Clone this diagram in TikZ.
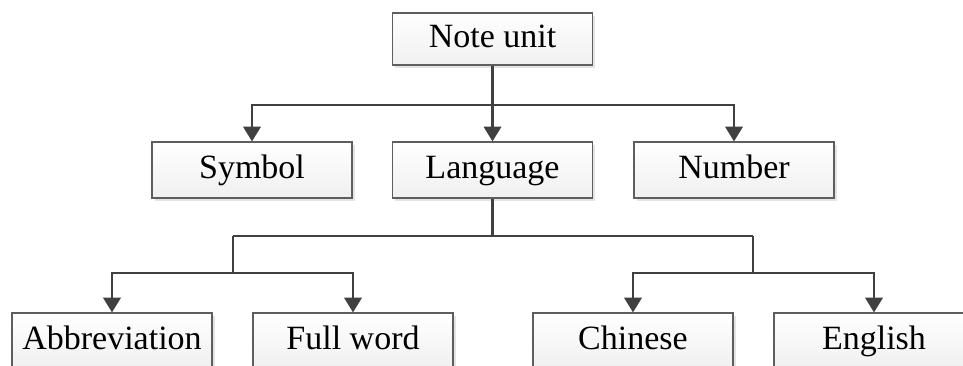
\documentclass[tikz,border=0pt]{standalone}
\usepackage{fontspec}
\setmainfont{Liberation Serif}
\usetikzlibrary{arrows.meta,shadows}

\definecolor{linegray}{HTML}{404040}
\definecolor{boxgray}{HTML}{5E5E5E}

\tikzset{
    unitbox/.style={draw=boxgray, line width=0.9pt, top color=white, bottom color=gray!12,
        minimum width=150pt, minimum height=42pt, inner sep=0pt,
        text height=17pt, text depth=5pt,
        font=\fontsize{25.5}{29}\selectfont,
        drop shadow={shadow xshift=2.2pt, shadow yshift=-2.2pt, fill=gray!35, opacity=0.6}},
    link/.style={draw=linegray, line width=1.7pt},
    arr/.style={link, -{Triangle[width=13pt,length=11pt]}}
}

\begin{document}
\begin{tikzpicture}[x=0.75pt, y=-0.75pt]

    % frame of the picture
    \clip (0,0) rectangle (963,365);
    \fill[white] (0,0) rectangle (963,365);

    % top
    \node[unitbox, minimum height=39pt] (note) at (492.5,39) {Note unit};

    % second row
    \node[unitbox] (symbol)   at (252,170)   {Symbol};
    \node[unitbox] (language) at (492.5,170) {Language};
    \node[unitbox] (number)   at (734,170)   {Number};

    % third row
    \node[unitbox] (abbr)    at (112,341) {Abbreviation};
    \node[unitbox] (full)    at (353,341) {Full word};
    \node[unitbox] (chinese) at (633,341) {Chinese};
    \node[unitbox] (english) at (874,341) {English};

    % joints
    \coordinate (topjoint) at (note.south |- 0,105);
    \coordinate (midjoint) at (language.south |- 0,236);
    \coordinate (leftup)   at (233,236);
    \coordinate (rightup)  at (753,236);
    \coordinate (leftdown)  at (233,273);
    \coordinate (rightdown) at (753,273);

    % note unit -> second row
    \draw[link] (note.south) -- (topjoint);
    \draw[arr] (topjoint) -| (symbol.north);
    \draw[arr] (topjoint) -- (language.north);
    \draw[arr] (topjoint) -| (number.north);

    % language -> third row
    \draw[link] (language.south) -- (midjoint);
    \draw[link] (leftup) -- (rightup);
    \draw[link] (leftup) -- (leftdown);
    \draw[link] (rightup) -- (rightdown);
    \draw[arr] (leftdown) -| (abbr.north);
    \draw[arr] (leftdown) -| (full.north);
    \draw[arr] (rightdown) -| (chinese.north);
    \draw[arr] (rightdown) -| (english.north);

\end{tikzpicture}
\end{document}
